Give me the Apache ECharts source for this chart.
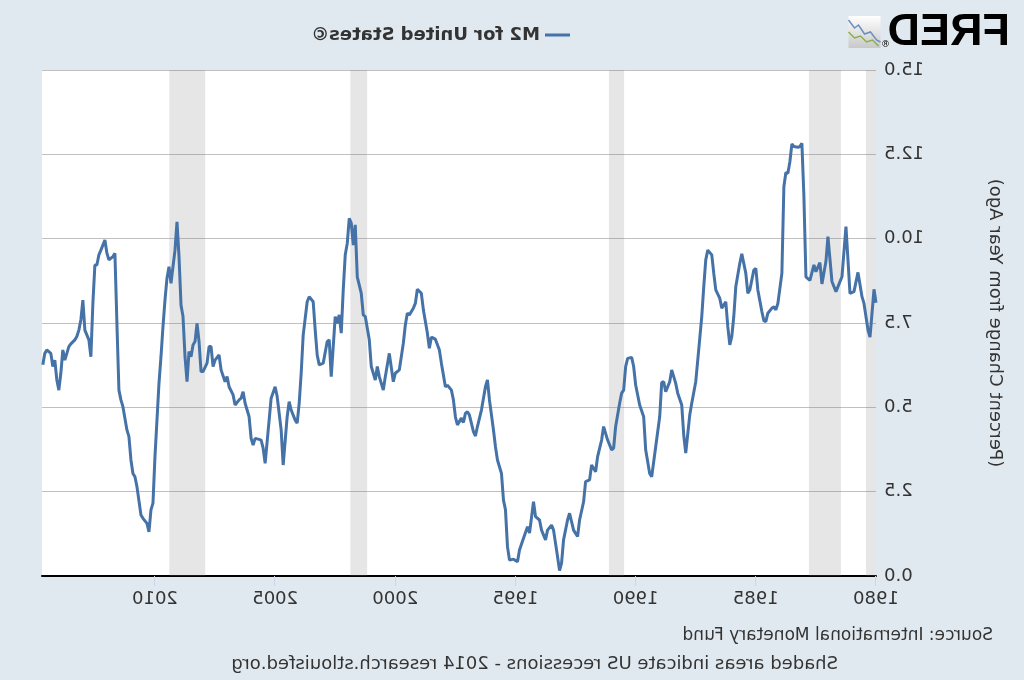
<!DOCTYPE html>
<html>
<head>
<meta charset="utf-8">
<script src="https://cdn.jsdelivr.net/npm/echarts@6/dist/echarts.min.js"></script>
<style>
html, body { margin: 0; padding: 0; background: #e1e9f0; }
/* the reference is a mirror image of the FRED chart */
#main { width: 1024px; height: 680px; transform: scaleX(-1); }
</style>
</head>
<body>
<div id="main"></div>
<script>
// M2 for United States, percent change from year ago
var dates = [
  '1980-01','1980-02','1980-04','1980-05','1980-07','1980-08','1980-10','1980-12',
  '1981-02','1981-04','1981-06','1981-09','1981-11',
  '1982-01','1982-02','1982-04','1982-05','1982-07','1982-08','1982-10','1982-12',
  '1983-01','1983-02','1983-03','1983-04','1983-06','1983-07','1983-08','1983-09','1983-10','1983-11','1983-12',
  '1984-02','1984-03','1984-04','1984-05','1984-07','1984-08','1984-09','1984-10','1984-12',
  '1985-01','1985-02','1985-04','1985-05','1985-06','1985-08','1985-09','1985-11','1985-12',
  '1986-01','1986-02','1986-03','1986-04','1986-06','1986-07','1986-09','1986-10','1986-11',
  '1987-01','1987-02','1987-03','1987-04','1987-06','1987-07','1987-09','1987-10','1987-12',
  '1988-01','1988-02','1988-04','1988-05','1988-07','1988-08','1988-10','1988-11','1988-12',
  '1989-01','1989-03','1989-05','1989-06','1989-08','1989-09','1989-11',
  '1990-01','1990-02','1990-03','1990-05','1990-06','1990-07','1990-08','1990-09','1990-11','1990-12',
  '1991-01','1991-03','1991-04','1991-05','1991-06','1991-08','1991-09','1991-11','1991-12',
  '1992-02','1992-03','1992-05','1992-06','1992-08','1992-10','1992-11',
  '1993-01','1993-02','1993-03','1993-04','1993-06','1993-07','1993-09','1993-10','1993-12',
  '1994-01','1994-03','1994-04','1994-06','1994-07','1994-09','1994-11','1994-12',
  '1995-02','1995-04','1995-05','1995-06','1995-07','1995-08','1995-10','1995-11','1995-12',
  '1996-02','1996-03','1996-04','1996-06','1996-08','1996-09','1996-10','1996-12',
  '1997-01','1997-02','1997-03','1997-04','1997-06','1997-07','1997-08','1997-09','1997-11','1997-12',
  '1998-02','1998-03','1998-05','1998-07','1998-08','1998-09','1998-11','1998-12',
  '1999-02','1999-03','1999-04','1999-06','1999-07','1999-08','1999-09','1999-11',
  '2000-01','2000-02','2000-04','2000-06','2000-07','2000-09','2000-10','2000-11',
  '2001-01','2001-02','2001-04','2001-05','2001-06','2001-08','2001-09','2001-10','2001-11','2001-12',
  '2002-01','2002-02','2002-03','2002-04','2002-05','2002-06','2002-07','2002-09','2002-10','2002-11',
  '2003-01','2003-03','2003-04','2003-05','2003-06','2003-08','2003-09','2003-11','2003-12',
  '2004-01','2004-02','2004-03','2004-05','2004-06','2004-07','2004-09','2004-10','2004-12',
  '2005-01','2005-03','2005-04','2005-06','2005-07','2005-08','2005-09','2005-11','2005-12',
  '2006-01','2006-02','2006-04','2006-05','2006-06','2006-07','2006-09','2006-10','2006-12',
  '2007-01','2007-02','2007-04','2007-05','2007-07','2007-08','2007-09','2007-10','2007-11',
  '2008-01','2008-02','2008-03','2008-04','2008-05','2008-06','2008-07','2008-08','2008-09','2008-10','2008-11','2008-12',
  '2009-01','2009-02','2009-03','2009-04','2009-05','2009-06','2009-07','2009-08','2009-09','2009-10','2009-11',
  '2010-01','2010-02','2010-03','2010-04','2010-05','2010-07','2010-08','2010-10','2010-11','2010-12',
  '2011-01','2011-02','2011-03','2011-05','2011-06','2011-07','2011-08','2011-09','2011-10','2011-12',
  '2012-01','2012-02','2012-03','2012-04','2012-05','2012-06','2012-07','2012-08','2012-09','2012-10','2012-12',
  '2013-01','2013-02','2013-03','2013-04','2013-05','2013-07','2013-08','2013-09','2013-10','2013-11','2013-12',
  '2014-01','2014-02','2014-03','2014-04','2014-05','2014-06','2014-07','2014-08','2014-09'
];
var values = [
  8.1, 8.5, 7.08, 7.29, 8.08, 8.28, 9.0, 8.43,
  8.38, 10.36, 8.87, 8.43, 8.73,
  10.06, 9.32, 8.66, 9.29, 9.02, 9.22, 8.76, 8.87,
  11.25, 12.83, 12.73, 12.71, 12.73, 12.81, 12.28, 11.94, 11.96, 11.54, 8.97,
  8.08, 7.89, 7.98, 7.94, 7.79, 7.54, 7.57, 7.84, 8.48,
  9.12, 9.07, 8.48, 8.38, 8.97, 9.55, 9.27, 8.58, 7.7,
  7.1, 6.85, 7.39, 8.13, 7.94, 8.23, 8.48, 8.97, 9.52,
  9.66, 9.37, 8.58, 7.69, 6.40, 5.76, 5.12, 4.77, 3.64,
  4.18, 5.07, 5.42, 5.71, 6.11, 5.76, 5.46, 5.76, 5.73,
  4.72, 3.83, 2.94, 3.04, 3.74, 4.72, 5.07,
  5.66, 6.21, 6.48, 6.45, 6.21, 5.51, 5.42, 5.12, 4.43, 3.79,
  3.74, 4.03, 4.23, 4.43, 4.03, 3.54, 3.09, 3.29, 2.85,
  2.80, 2.20, 1.66, 1.17, 1.36, 1.86, 1.66,
  1.07, 0.38, 0.16, 0.57, 1.36, 1.51, 1.36, 1.07, 1.36,
  1.66, 1.76, 2.20, 1.27, 1.46, 1.12, 0.77, 0.42,
  0.50, 0.47, 0.87, 1.96, 2.25, 3.04, 3.44, 3.83, 4.33,
  5.22, 5.81, 5.61, 4.92, 4.43, 4.15, 4.28, 4.77,
  4.87, 4.82, 4.55, 4.68, 4.48, 4.72, 5.22, 5.51, 5.66, 5.61,
  6.31, 6.70, 7.02, 7.08, 6.75, 7.20, 7.89, 8.38,
  8.50, 8.08, 7.94, 7.74, 7.79, 7.44, 6.90, 6.11,
  6.01, 5.76, 6.60, 5.91, 5.51, 5.91, 6.21, 5.81,
  6.21, 7.0, 7.69, 7.74, 8.38, 8.87, 10.41, 9.81, 10.46, 10.6,
  9.86, 9.52, 8.48, 7.2, 7.74, 7.49, 7.69, 5.91, 7.0, 6.95,
  6.31, 6.26, 6.55, 7.29, 8.13, 8.28, 8.13, 7.14, 6.01,
  5.12, 4.53, 4.62, 4.92, 5.17, 4.72, 3.29, 4.33, 5.32,
  5.61, 5.27, 4.62, 3.34, 3.79, 4.03, 4.05, 4.08, 3.88,
  4.08, 4.72, 5.12, 5.46, 5.27, 5.22, 5.07, 5.37, 5.61,
  5.91, 5.76, 6.11, 6.55, 6.40, 6.21, 6.80, 6.80, 6.31,
  6.06, 6.06, 6.95, 7.49, 6.95, 6.85, 6.50, 6.65, 5.76, 6.50, 7.69, 8.03,
  9.47, 10.5, 9.66, 9.17, 8.68, 9.17, 8.83, 8.18, 7.39, 6.50, 5.71,
  3.54, 2.16, 1.96, 1.31, 1.56, 1.71, 1.81, 2.65, 2.94, 3.04,
  3.44, 4.13, 4.33, 5.02, 5.22, 5.51, 7.49, 9.57, 9.47, 9.37,
  9.57, 9.96, 9.81, 9.66, 9.52, 9.22, 9.22, 8.08, 6.50, 7.0, 7.29,
  8.18, 7.59, 7.29, 7.10, 7.0, 6.88, 6.80, 6.60, 6.40, 6.70, 6.01,
  5.51, 5.81, 6.40, 6.21, 6.60, 6.65, 6.70, 6.60, 6.26
];
// US recessions (decimal years, as shaded in the picture)
var recessionStart = [1980.0, 1981.46, 1990.48, 2001.17, 2007.91];
var recessionEnd   = [1980.42, 1982.79, 1991.11, 2001.87, 2009.40];
var xTicks = [1980, 1985, 1990, 1995, 2000, 2005, 2010];

function toYear(s) {
  var p = s.split('-');
  return +p[0] + (+p[1] - 1) / 12;
}

var points = [];
for (var i = 0; i < dates.length; i++) {
  points.push([toYear(dates[i]), values[i]]);
}
var bands = [];
for (var j = 0; j < recessionStart.length; j++) {
  bands.push([{ xAxis: recessionStart[j] }, { xAxis: recessionEnd[j] }]);
}

var myChart = echarts.init(document.getElementById('main'));
var option = {
  animation: false,
  backgroundColor: '#e1e9f0',
  grid: {
    left: 148, right: 42, top: 70, bottom: 104,
    show: true, backgroundColor: '#ffffff', borderWidth: 0
  },
  legend: {
    left: 449, top: 21,
    icon: 'rect', itemWidth: 25, itemHeight: 3, itemGap: 6,
    textStyle: { fontFamily: 'DejaVu Sans', fontWeight: 'bold', fontSize: 18, color: '#333' },
    data: ['M2 for United States©']
  },
  xAxis: {
    type: 'value',
    min: 1980, max: 2014.7,
    interval: 5,
    splitLine: { show: false },
    axisLine: { show: true, lineStyle: { color: '#000', width: 2 } },
    axisTick: { show: true, customValues: xTicks, length: 10, lineStyle: { color: '#ccd6eb' } },
    axisLabel: {
      customValues: xTicks,
      margin: 14,
      fontFamily: 'DejaVu Sans', fontSize: 18, color: '#333',
      formatter: function (v) { return String(v); }
    }
  },
  yAxis: {
    type: 'value',
    min: 0, max: 15, interval: 2.5,
    name: '(Percent Change from Year Ago)',
    nameLocation: 'middle',
    nameGap: 110,
    nameTextStyle: { fontFamily: 'DejaVu Sans', fontSize: 18, color: '#333' },
    axisLine: { show: false },
    axisTick: { show: false },
    splitLine: { lineStyle: { color: '#c0c0c0', width: 1 } },
    axisLabel: {
      margin: 8,
      fontFamily: 'DejaVu Sans', fontSize: 18, color: '#333',
      formatter: function (v) { return v.toFixed(1); }
    }
  },
  series: [{
    name: 'M2 for United States©',
    type: 'line',
    data: points,
    showSymbol: false,
    symbol: 'none',
    lineStyle: { color: '#4572a7', width: 3 },
    itemStyle: { color: '#4572a7' },
    markArea: {
      silent: true,
      itemStyle: { color: 'rgba(128,128,128,0.2)' },
      data: bands
    }
  }],
  graphic: [
    { type: 'text', left: 14, top: 10,
      style: { text: 'FRED', font: 'bold 45px "Liberation Sans"', fill: '#000' } },
    { type: 'text', left: 134, top: 40,
      style: { text: '®', font: '9px "DejaVu Sans"', fill: '#000' } },
    { type: 'group', left: 141, top: 16, children: [
      { type: 'rect', shape: { x: 0, y: 0, width: 32, height: 32 },
        style: { fill: new echarts.graphic.LinearGradient(0, 0, 0, 1, [
          { offset: 0, color: '#ffffff' }, { offset: 1, color: '#c8c8c8' }]) } },
      { type: 'polyline', shape: { points: [[32,4],[26,12],[22,9],[16,18],[10,16],[4,24],[0,26]] },
        style: { stroke: '#6a8fc0', lineWidth: 1.5, fill: null } },
      { type: 'polyline', shape: { points: [[32,16],[26,22],[20,20],[14,26],[8,24],[2,30]] },
        style: { stroke: '#8ab04a', lineWidth: 1.5, fill: null } }
    ] },
    { type: 'text', left: 31, top: 627,
      style: { text: 'Source: International Monetary Fund', font: '17px "DejaVu Sans"', fill: '#333' } },
    { type: 'text', left: 186, top: 655,
      style: { text: 'Shaded areas indicate US recessions - 2014 research.stlouisfed.org', font: '18px "DejaVu Sans"', fill: '#333' } }
  ]
};
myChart.setOption(option);
</script>
</body>
</html>
